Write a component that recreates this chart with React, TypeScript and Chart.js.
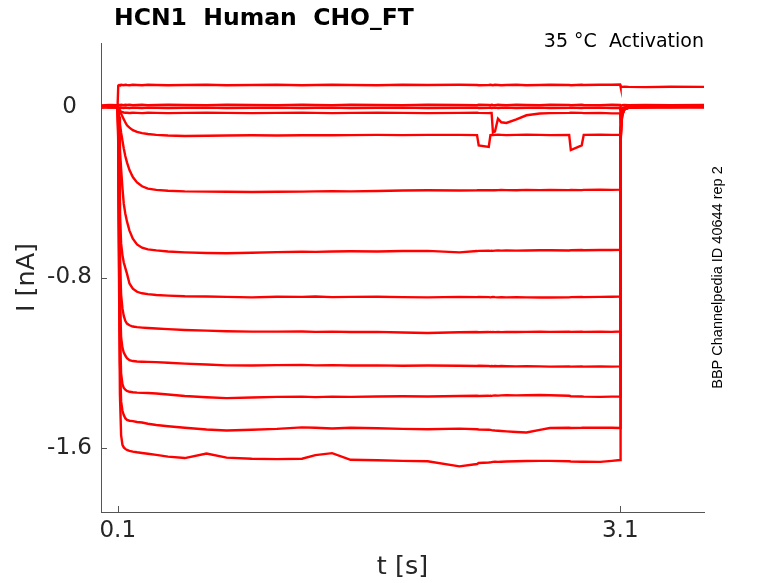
import { useEffect, useRef } from "react";
import { Chart, registerables } from "chart.js";
import type { Plugin } from "chart.js";

Chart.register(...registerables);

const chartTitle = "HCN1  Human  CHO_FT";
const conditionLabel = "35 °C  Activation";
const sourceLabel = "BBP Channelpedia ID 40644 rep 2";

const timeTicks = [0.1, 3.1];
const currentTicks = [-1.6, -0.8, 0];

// sample times (s), shared by every sweep
const stepTimes = [
  0, 0.05, 0.099, 0.103, 0.108, 0.113, 0.12, 0.128, 0.136, 0.145,
  0.155, 0.17, 0.19, 0.215, 0.245, 0.28, 0.33, 0.4, 0.5, 0.63,
  0.75, 0.9, 1.05, 1.2, 1.28, 1.38, 1.49, 1.65, 1.8, 1.95,
  2.14, 2.245, 2.255, 2.315, 2.325, 2.332, 2.34, 2.352, 2.37, 2.39,
  2.42, 2.48, 2.54, 2.62, 2.68, 2.795, 2.805, 2.87, 2.882, 2.98,
  3.05, 3.099, 3.102, 3.106, 3.112, 3.125, 3.15, 3.25, 3.4, 3.6,
];

// currents (nA), one list per voltage step
const sweepA = [
  0.004, 0.006, 0.005, 0.1, 0.103, 0.102, 0.104, 0.103, 0.102, 0.104,
  0.103, 0.102, 0.104, 0.103, 0.102, 0.104, 0.103, 0.102, 0.103, 0.104,
  0.102, 0.103, 0.104, 0.102, 0.103, 0.104, 0.103, 0.102, 0.104, 0.103,
  0.104, 0.103, 0.102, 0.103, 0.104, 0.103, 0.102, 0.104, 0.103, 0.102,
  0.103, 0.104, 0.102, 0.103, 0.104, 0.103, 0.102, 0.104, 0.103, 0.104,
  0.104, 0.105, 0.094, 0.093, 0.094, 0.095, 0.094, 0.093, 0.095, 0.094,
];
const sweepB = [
  0.007, 0.009, 0.008, 0.01, 0.009, 0.008, 0.01, 0.009, 0.008, 0.01,
  0.009, 0.01, 0.008, 0.009, 0.01, 0.008, 0.009, 0.01, 0.009, 0.008,
  0.01, 0.009, 0.008, 0.01, 0.009, 0.008, 0.01, 0.009, 0.008, 0.01,
  0.009, 0.008, 0.01, 0.009, 0.008, 0.01, 0.009, 0.008, 0.01, 0.009,
  0.008, 0.01, 0.009, 0.008, 0.01, 0.009, 0.008, 0.01, 0.009, 0.008,
  0.01, 0.009, 0.004, 0.006, 0.008, 0.009, 0.008, 0.009, 0.008, 0.009,
];
const sweepC = [
  -0.002, 0, -0.001, -0.003, -0.004, -0.005, -0.003, -0.004, -0.005, -0.003,
  -0.004, -0.005, -0.003, -0.004, -0.005, -0.003, -0.004, -0.005, -0.004, -0.003,
  -0.005, -0.004, -0.003, -0.005, -0.004, -0.003, -0.005, -0.004, -0.003, -0.005,
  -0.004, -0.003, -0.005, -0.004, -0.003, -0.005, -0.004, -0.003, -0.005, -0.004,
  -0.003, -0.005, -0.004, -0.003, -0.005, -0.004, -0.003, -0.005, -0.004, -0.003,
  -0.005, -0.004, -0.03, -0.015, -0.006, -0.002, 0, -0.001, 0, -0.001,
];
const sweepD = [
  0.002, 0.001, 0, -0.005, -0.012, -0.018, -0.022, -0.024, -0.026, -0.027,
  -0.027, -0.028, -0.027, -0.028, -0.029, -0.027, -0.028, -0.029, -0.028, -0.027,
  -0.028, -0.029, -0.028, -0.027, -0.028, -0.029, -0.028, -0.027, -0.028, -0.029,
  -0.028, -0.027, -0.028, -0.029, -0.028, -0.028, -0.12, -0.115, -0.055, -0.072,
  -0.075, -0.058, -0.039, -0.031, -0.029, -0.028, -0.027, -0.028, -0.029, -0.028,
  -0.03, -0.029, -0.06, -0.03, -0.012, -0.004, 0, 0.001, 0, 0.001,
];
const sweepE = [
  0.003, 0.002, 0.001, -0.005, -0.015, -0.022, -0.032, -0.045, -0.058, -0.072,
  -0.086, -0.097, -0.109, -0.117, -0.123, -0.127, -0.131, -0.134, -0.136, -0.135,
  -0.134, -0.133, -0.134, -0.133, -0.132, -0.133, -0.132, -0.131, -0.132, -0.131,
  -0.131, -0.132, -0.18, -0.187, -0.132, -0.131, -0.132, -0.131, -0.13, -0.131,
  -0.132, -0.131, -0.13, -0.131, -0.132, -0.131, -0.202, -0.18, -0.131, -0.13,
  -0.131, -0.13, -0.18, -0.07, -0.025, -0.008, -0.002, 0, 0.001, 0,
];
const sweepG = [
  0.001, -0.002, 0, -0.008, -0.045, -0.08, -0.12, -0.158, -0.195, -0.23,
  -0.26, -0.296, -0.329, -0.354, -0.372, -0.383, -0.389, -0.393, -0.396, -0.397,
  -0.398, -0.399, -0.398, -0.397, -0.396, -0.395, -0.396, -0.394, -0.392, -0.391,
  -0.392, -0.391, -0.39, -0.391, -0.39, -0.391, -0.39, -0.391, -0.39, -0.389,
  -0.39, -0.391, -0.389, -0.39, -0.389, -0.39, -0.389, -0.39, -0.389, -0.388,
  -0.389, -0.388, -0.06, -0.03, -0.012, -0.004, -0.001, 0.002, 0, 0.001,
];
const sweepH = [
  -0.002, 0.001, 0, -0.02, -0.12, -0.2, -0.29, -0.38, -0.455, -0.5,
  -0.537, -0.58, -0.618, -0.645, -0.66, -0.668, -0.673, -0.678, -0.682, -0.685,
  -0.686, -0.684, -0.681, -0.679, -0.68, -0.678, -0.677, -0.678, -0.676, -0.675,
  -0.682, -0.676, -0.675, -0.674, -0.675, -0.674, -0.675, -0.674, -0.673, -0.674,
  -0.673, -0.674, -0.673, -0.672, -0.672, -0.673, -0.672, -0.671, -0.672, -0.671,
  -0.671, -0.67, -0.1, -0.05, -0.02, -0.006, -0.002, 0.001, -0.001, 0,
];
const sweepI = [
  0.002, -0.001, 0, -0.05, -0.3, -0.5, -0.64, -0.695, -0.73, -0.755,
  -0.782, -0.828, -0.852, -0.867, -0.874, -0.878, -0.882, -0.885, -0.888, -0.889,
  -0.891, -0.893, -0.89, -0.891, -0.889, -0.892, -0.891, -0.89, -0.892, -0.893,
  -0.891, -0.892, -0.891, -0.892, -0.893, -0.892, -0.891, -0.892, -0.893, -0.892,
  -0.893, -0.892, -0.893, -0.894, -0.894, -0.893, -0.892, -0.891, -0.892, -0.891,
  -0.89, -0.889, -0.12, -0.06, -0.025, -0.008, -0.002, 0, 0.001, -0.001,
];
const sweepJ = [
  -0.001, 0.002, 0, -0.08, -0.45, -0.72, -0.88, -0.945, -0.98, -1.003,
  -1.016, -1.024, -1.03, -1.033, -1.035, -1.037, -1.039, -1.042, -1.046, -1.049,
  -1.052, -1.054, -1.054, -1.053, -1.055, -1.054, -1.056, -1.055, -1.058, -1.06,
  -1.057, -1.056, -1.057, -1.056, -1.055, -1.056, -1.055, -1.056, -1.055, -1.056,
  -1.055, -1.056, -1.055, -1.054, -1.055, -1.054, -1.055, -1.054, -1.055, -1.054,
  -1.055, -1.053, -0.14, -0.07, -0.03, -0.01, -0.003, 0.001, 0, 0.002,
];
const sweepK = [
  0.001, -0.002, 0, -0.1, -0.55, -0.9, -1.08, -1.13, -1.152, -1.166,
  -1.178, -1.188, -1.192, -1.194, -1.195, -1.196, -1.197, -1.2, -1.204, -1.208,
  -1.212, -1.213, -1.211, -1.21, -1.212, -1.211, -1.213, -1.212, -1.214, -1.213,
  -1.214, -1.215, -1.214, -1.215, -1.216, -1.215, -1.216, -1.215, -1.216, -1.215,
  -1.216, -1.217, -1.216, -1.217, -1.218, -1.217, -1.218, -1.217, -1.218, -1.217,
  -1.218, -1.217, -0.15, -0.075, -0.032, -0.01, -0.003, 0, 0.002, 0,
];
const sweepL = [
  -0.002, 0.001, 0, -0.12, -0.65, -1.05, -1.25, -1.3, -1.318, -1.326,
  -1.332, -1.336, -1.338, -1.34, -1.341, -1.342, -1.344, -1.349, -1.356, -1.362,
  -1.366, -1.363, -1.36, -1.359, -1.361, -1.359, -1.36, -1.358, -1.357, -1.358,
  -1.356, -1.355, -1.356, -1.355, -1.354, -1.355, -1.354, -1.353, -1.354, -1.353,
  -1.352, -1.353, -1.352, -1.351, -1.352, -1.355, -1.357, -1.358, -1.359, -1.36,
  -1.359, -1.358, -0.16, -0.08, -0.035, -0.011, -0.003, 0.001, -0.001, 0.001,
];
const sweepM = [
  0.001, -0.001, 0, -0.15, -0.75, -1.2, -1.38, -1.425, -1.445, -1.46,
  -1.468, -1.472, -1.474, -1.478, -1.48, -1.486, -1.492, -1.498, -1.505, -1.513,
  -1.518, -1.514, -1.51, -1.503, -1.505, -1.508, -1.505, -1.507, -1.51, -1.512,
  -1.509, -1.512, -1.513, -1.514, -1.515, -1.516, -1.517, -1.518, -1.519, -1.52,
  -1.522, -1.525, -1.527, -1.515, -1.506, -1.505, -1.506, -1.505, -1.504, -1.505,
  -1.505, -1.506, -0.17, -0.085, -0.036, -0.012, -0.003, 0, 0.001, -0.001,
];
const sweepN = [
  -0.001, 0.002, 0, -0.18, -0.85, -1.35, -1.54, -1.585, -1.597, -1.604,
  -1.609, -1.613, -1.617, -1.62, -1.623, -1.627, -1.632, -1.64, -1.647, -1.626,
  -1.645, -1.65, -1.652, -1.65, -1.633, -1.624, -1.655, -1.657, -1.66, -1.662,
  -1.686, -1.675, -1.67, -1.668, -1.667, -1.666, -1.665, -1.664, -1.665, -1.664,
  -1.663, -1.662, -1.661, -1.66, -1.66, -1.662, -1.663, -1.664, -1.664, -1.665,
  -1.66, -1.656, -0.18, -0.09, -0.038, -0.012, -0.004, 0.001, 0, 0.001,
];

const sweeps = [
  sweepA, sweepB, sweepC, sweepD, sweepE, sweepG,
  sweepH, sweepI, sweepJ, sweepK, sweepL, sweepM, sweepN,
];

const TEXT = "#262626";
const AXIS = "#555555";

// inward tick marks + the loose texts around the axes
const matlabDecor: Plugin<"line"> = {
  id: "matlabDecor",
  afterDraw(chart) {
    const { ctx, chartArea, scales } = chart;
    ctx.save();
    ctx.strokeStyle = AXIS;
    ctx.lineWidth = 1;
    ctx.beginPath();
    timeTicks.forEach((t) => {
      const px = Math.round(scales.x.getPixelForValue(t)) + 0.5;
      ctx.moveTo(px, chartArea.bottom);
      ctx.lineTo(px, chartArea.bottom - 6);
    });
    currentTicks.forEach((v) => {
      const py = Math.round(scales.y.getPixelForValue(v)) + 0.5;
      ctx.moveTo(chartArea.left, py);
      ctx.lineTo(chartArea.left + 6, py);
    });
    ctx.stroke();

    ctx.fillStyle = "#000";
    ctx.textBaseline = "middle";
    ctx.font = 'bold 23.5px "DejaVu Sans"';
    ctx.textAlign = "left";
    ctx.fillText(chartTitle, chartArea.left + 13, chartArea.top - 24);

    ctx.font = '19px "DejaVu Sans"';
    ctx.textAlign = "right";
    ctx.fillText(conditionLabel, chartArea.right, chartArea.top - 1);

    ctx.font = '14.5px "Liberation Sans"';
    ctx.textAlign = "center";
    ctx.translate(chartArea.right + 14, (chartArea.top + chartArea.bottom) / 2);
    ctx.rotate(-Math.PI / 2);
    ctx.fillText(sourceLabel, 0, 0);
    ctx.restore();
  },
};

const App = () => {
  const canvasRef = useRef<HTMLCanvasElement | null>(null);

  useEffect(() => {
    if (!canvasRef.current) return;

    const chart = new Chart(canvasRef.current, {
      type: "line",
      data: {
        datasets: sweeps.map((sweep, k) => ({
          label: `sweep ${k + 1}`,
          data: stepTimes.map((t, i) => ({ x: t, y: sweep[i] })),
          borderColor: "#ff0000",
          borderWidth: 2.4,
          pointRadius: 0,
          tension: 0,
          fill: false,
        })),
      },
      options: {
        responsive: true,
        maintainAspectRatio: false,
        animation: false,
        events: [],
        layout: { padding: { top: 43, right: 74, left: 0, bottom: 0 } },
        font: { family: '"DejaVu Sans"' },
        plugins: {
          legend: { display: false },
          tooltip: { enabled: false },
        },
        scales: {
          x: {
            type: "linear",
            min: 0,
            max: 3.6,
            afterBuildTicks: (scale) => {
              scale.ticks = timeTicks.map((value) => ({ value }));
            },
            afterFit: (scale) => {
              scale.height = 71;
            },
            grid: { display: false, drawTicks: false },
            border: { display: true, color: AXIS, width: 1 },
            ticks: {
              color: TEXT,
              font: { family: '"DejaVu Sans"', size: 23 },
              padding: 5,
              maxRotation: 0,
              autoSkip: false,
              callback: (v) => String(v),
            },
            title: {
              display: true,
              text: "t [s]",
              color: TEXT,
              font: { family: '"DejaVu Sans"', size: 25.5 },
              padding: { top: 0, bottom: 0 },
            },
          },
          y: {
            type: "linear",
            min: -1.9,
            max: 0.3,
            afterBuildTicks: (scale) => {
              scale.ticks = currentTicks.map((value) => ({ value }));
            },
            afterFit: (scale) => {
              scale.width = 101;
            },
            grid: { display: false, drawTicks: false },
            border: { display: true, color: AXIS, width: 1 },
            ticks: {
              color: TEXT,
              font: { family: '"DejaVu Sans"', size: 23 },
              padding: 9,
              crossAlign: "center",
              autoSkip: false,
              callback: (v) => String(v),
            },
            title: {
              display: true,
              text: "I [nA]",
              color: TEXT,
              font: { family: '"DejaVu Sans"', size: 25.5 },
              padding: { top: 12, bottom: 0 },
            },
          },
        },
      },
      plugins: [matlabDecor],
    });

    return () => {
      chart.destroy();
    };
  }, []);

  return (
    <div
      style={{
        position: "fixed",
        left: 0,
        top: 0,
        width: 778,
        height: 583,
        background: "#ffffff",
      }}
    >
      <canvas ref={canvasRef}></canvas>
    </div>
  );
};

export default App;
